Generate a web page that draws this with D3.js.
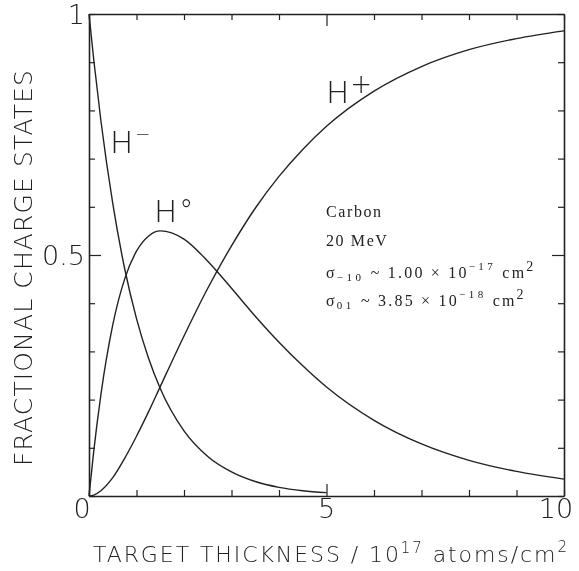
<!DOCTYPE html>
<html lang="en">
	<head>
		<meta charset="utf-8">
		<title>Fractional charge states</title>
		<script type="text/javascript" src="https://cdn.jsdelivr.net/npm/d3@7"></script>
		<style type="text/css">
			body { margin: 0; background: #fff; }
			svg { will-change: transform; }
			.plotter { font-family: "DejaVu Sans", sans-serif; font-stretch: condensed; font-weight: 300; fill: #222; }
			.typed { font-family: "Liberation Serif", "DejaVu Serif", serif; fill: #222; }
		</style>
	</head>
	<body>
		<script type="text/javascript">

			var w = 579;
			var h = 571;

			// target thickness in 10^17 atoms/cm^2
			var thickness = [0, 0.1, 0.25, 0.5, 0.75, 1, 1.25, 1.5, 2, 2.5, 3, 3.5, 4, 4.5, 5, 6, 7, 8, 9, 10];
			// H- only drawn up to 5
			var hMinus = [1, 0.905, 0.779, 0.607, 0.472, 0.368, 0.287, 0.223, 0.135, 0.082, 0.050, 0.030, 0.018, 0.011, 0.007];
			var hZero = [0, 0.093, 0.210, 0.355, 0.450, 0.508, 0.539, 0.550, 0.533, 0.487, 0.431, 0.373, 0.319, 0.270, 0.226, 0.157, 0.108, 0.074, 0.051, 0.035];
			var hPlus = [0, 0.002, 0.011, 0.038, 0.078, 0.124, 0.174, 0.227, 0.332, 0.431, 0.519, 0.597, 0.663, 0.719, 0.767, 0.840, 0.891, 0.926, 0.949, 0.965];

			var xTicks = [0, 1, 2, 3, 4, 5, 6, 7, 8, 9, 10];
			var yTicks = [0, 0.1, 0.2, 0.3, 0.4, 0.5, 0.6, 0.7, 0.8, 0.9, 1];
			var xLabels = ["0", "5", "10"];
			var yLabels = ["0.5", "1"];

			var xScale = d3.scaleLinear().domain([0, 10]).range([89, 564]);
			var yScale = d3.scaleLinear().domain([0, 1]).range([496, 14]);

			var svg = d3.select("body")
						.append("svg")
						.attr("width", w)
						.attr("height", h);

			// frame with inward ticks
			function styleAxis(g) {
				g.select(".domain").attr("stroke", "#222").attr("stroke-width", 1.6);
				g.selectAll(".tick line").attr("stroke", "#222").attr("stroke-width", 1.2);
			}

			function bigTick(g, v, len, dir) {
				g.selectAll(".tick")
				 .filter(function(d) { return d === v; })
				 .select("line")
				 .attr(dir, len);
			}

			var bottomAxis = svg.append("g")
				.attr("transform", "translate(0," + yScale(0) + ")")
				.call(d3.axisBottom(xScale).tickValues(xTicks).tickSize(-6).tickSizeOuter(0).tickFormat(""))
				.call(styleAxis);
			bigTick(bottomAxis, 5, -12, "y2");

			var topAxis = svg.append("g")
				.attr("transform", "translate(0," + yScale(1) + ")")
				.call(d3.axisTop(xScale).tickValues(xTicks).tickSize(-6).tickSizeOuter(0).tickFormat(""))
				.call(styleAxis);
			bigTick(topAxis, 5, 12, "y2");

			var leftAxis = svg.append("g")
				.attr("transform", "translate(" + xScale(0) + ",0)")
				.call(d3.axisLeft(yScale).tickValues(yTicks).tickSize(-6).tickSizeOuter(0).tickFormat(""))
				.call(styleAxis);
			bigTick(leftAxis, 0.5, 12, "x2");

			var rightAxis = svg.append("g")
				.attr("transform", "translate(" + xScale(10) + ",0)")
				.call(d3.axisRight(yScale).tickValues(yTicks).tickSize(-6).tickSizeOuter(0).tickFormat(""))
				.call(styleAxis);
			bigTick(rightAxis, 0.5, -12, "x2");

			// tick labels
			svg.selectAll("text.xlab")
			   .data(xLabels)
			   .enter()
			   .append("text")
			   .attr("class", "plotter xlab")
			   .attr("x", function(d) { return xScale(+d) - (+d === 0 ? 7 : (+d === 10 ? 8 : 0)); })
			   .attr("y", 518)
			   .attr("text-anchor", "middle")
			   .attr("font-size", "27px")
			   .text(function(d) { return d; });

			svg.selectAll("text.ylab")
			   .data(yLabels)
			   .enter()
			   .append("text")
			   .attr("class", "plotter ylab")
			   .attr("x", 85)
			   .attr("y", function(d) { return yScale(+d) + 10; })
			   .attr("text-anchor", "end")
			   .attr("font-size", "27px")
			   .text(function(d) { return d; });

			// axis titles
			svg.append("text")
			   .attr("class", "plotter")
			   .attr("transform", "translate(32,268) rotate(-90)")
			   .attr("text-anchor", "middle")
			   .attr("font-size", "25px")
			   .attr("textLength", 396)
			   .attr("lengthAdjust", "spacing")
			   .text("FRACTIONAL CHARGE STATES");

			var xt = svg.append("text")
			   .attr("class", "plotter")
			   .attr("x", 93)
			   .attr("y", 562)
			   .attr("font-size", "22px")
			   .attr("textLength", 474)
			   .attr("lengthAdjust", "spacing");
			xt.append("tspan").text("TARGET THICKNESS / 10");
			xt.append("tspan").attr("dy", -9).attr("font-size", "15px").text("17");
			xt.append("tspan").attr("dy", 9).text(" atoms/cm");
			xt.append("tspan").attr("dy", -10).attr("font-size", "15px").text("2");

			// curves
			var line = d3.line()
						 .x(function(d) { return xScale(d[0]); })
						 .y(function(d) { return yScale(d[1]); })
						 .curve(d3.curveMonotoneX);

			var series = [hMinus, hZero, hPlus];
			svg.selectAll("path.curve")
			   .data(series)
			   .enter()
			   .append("path")
			   .attr("class", "curve")
			   .attr("d", function(s) {
				   return line(s.map(function(v, i) { return [thickness[i], v]; }));
			   })
			   .attr("fill", "none")
			   .attr("stroke", "#222")
			   .attr("stroke-width", 1.4);

			// curve labels
			function hLabel(x, y, sup, supSize, supDy, supDx) {
				var t = svg.append("text")
						   .attr("class", "plotter")
						   .attr("x", x)
						   .attr("y", y)
						   .attr("font-size", "31px");
				t.append("tspan").text("H");
				t.append("tspan").attr("dx", supDx).attr("dy", supDy).attr("font-size", supSize).text(sup);
			}
			hLabel(110, 153, "\u2212", "18px", -13, 2);
			hLabel(154, 222, "\u00b0", "28px", -2, 2);
			hLabel(326, 103, "+", "26px", -10, 1);

			// annotation
			var notes = svg.append("g").attr("class", "typed").attr("font-size", "16px").attr("letter-spacing", "1.6px");
			notes.append("text").attr("x", 326).attr("y", 217).text("Carbon");
			notes.append("text").attr("x", 326).attr("y", 246).text("20 MeV");

			var s1 = notes.append("text").attr("x", 326).attr("y", 278).attr("letter-spacing", "2.2px");
			s1.append("tspan").text("\u03c3");
			s1.append("tspan").attr("dy", 3).attr("font-size", "11px").attr("letter-spacing", "3.5px").text("\u221210");
			s1.append("tspan").attr("dy", -3).text(" ~ 1.00 \u00d7 10");
			s1.append("tspan").attr("dy", -8).attr("font-size", "11px").attr("letter-spacing", "3.5px").text("\u221217");
			s1.append("tspan").attr("dy", 8).attr("dx", 6).text("cm");
			s1.append("tspan").attr("dy", -7).attr("font-size", "14px").text("2");

			var s2 = notes.append("text").attr("x", 326).attr("y", 306).attr("letter-spacing", "2.2px");
			s2.append("tspan").text("\u03c3");
			s2.append("tspan").attr("dy", 3).attr("font-size", "11px").attr("letter-spacing", "3.5px").text("01");
			s2.append("tspan").attr("dy", -3).text(" ~ 3.85 \u00d7 10");
			s2.append("tspan").attr("dy", -8).attr("font-size", "11px").attr("letter-spacing", "3.5px").text("\u221218");
			s2.append("tspan").attr("dy", 8).attr("dx", 6).text("cm");
			s2.append("tspan").attr("dy", -7).attr("font-size", "14px").text("2");

		</script>
	</body>
</html>
